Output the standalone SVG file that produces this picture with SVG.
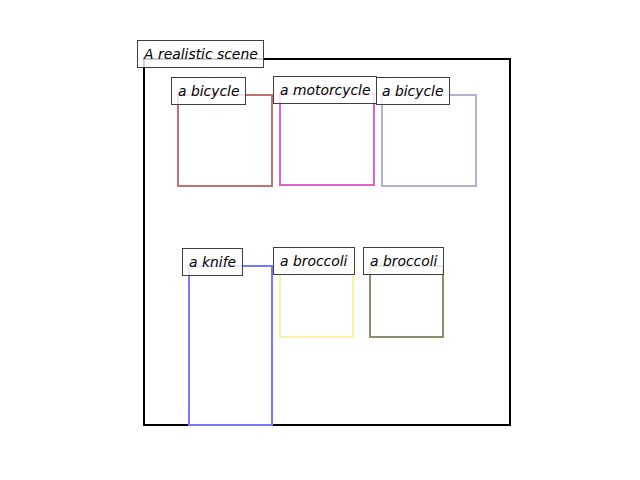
<svg xmlns="http://www.w3.org/2000/svg" width="640" height="480" viewBox="0 0 640 480">
<style>
.box{fill:none;stroke-width:2}
.lbl rect{fill:#ffffff;fill-opacity:0.8;stroke:#3f3f3f;stroke-width:1}
.lbl text{font-family:"DejaVu Sans",sans-serif;font-style:oblique;font-size:13.9px;fill:#000}
</style>
<rect width="640" height="480" fill="#ffffff"/>
<g id="scene">
<rect class="box" x="144" y="59" width="366" height="366" stroke="#000000"/>
</g>
<g id="bicycle1"><rect class="box" x="178" y="95" width="94" height="91" stroke="#c07373"/></g>
<g id="motorcycle"><rect class="box" x="280" y="94" width="94" height="91" stroke="#dd66cc"/></g>
<g id="bicycle2"><rect class="box" x="382" y="95" width="94" height="91" stroke="#b4b0d2"/></g>
<g id="knife"><rect class="box" x="189" y="266" width="83" height="159" stroke="#7777ff"/></g>
<g id="broccoli1"><rect class="box" x="280" y="265" width="73" height="72" stroke="#fbf0a8"/></g>
<g id="broccoli2"><rect class="box" x="370" y="266" width="73" height="71" stroke="#8f8a6a"/></g>
<g id="labels">
<g class="lbl" id="label-scene"><rect x="137.5" y="40.5" width="126" height="27"/><text x="144" y="58.5">A realistic scene</text></g>
<g class="lbl" id="label-bicycle1"><rect x="171.5" y="77.5" width="74" height="27"/><text x="178" y="95.5">a bicycle</text></g>
<g class="lbl" id="label-motorcycle"><rect x="273.5" y="76.5" width="103" height="27"/><text x="280" y="94.5">a motorcycle</text></g>
<g class="lbl" id="label-bicycle2"><rect x="376.5" y="77.5" width="73" height="27"/><text x="382" y="95.5">a bicycle</text></g>
<g class="lbl" id="label-knife"><rect x="182.5" y="248.5" width="60" height="27"/><text x="189" y="266.5">a knife</text></g>
<g class="lbl" id="label-broccoli1"><rect x="273.5" y="247.5" width="81" height="27"/><text x="280" y="265.5">a broccoli</text></g>
<g class="lbl" id="label-broccoli2"><rect x="363.5" y="247.5" width="80" height="27"/><text x="370" y="265.5">a broccoli</text></g>
</g>
</svg>
